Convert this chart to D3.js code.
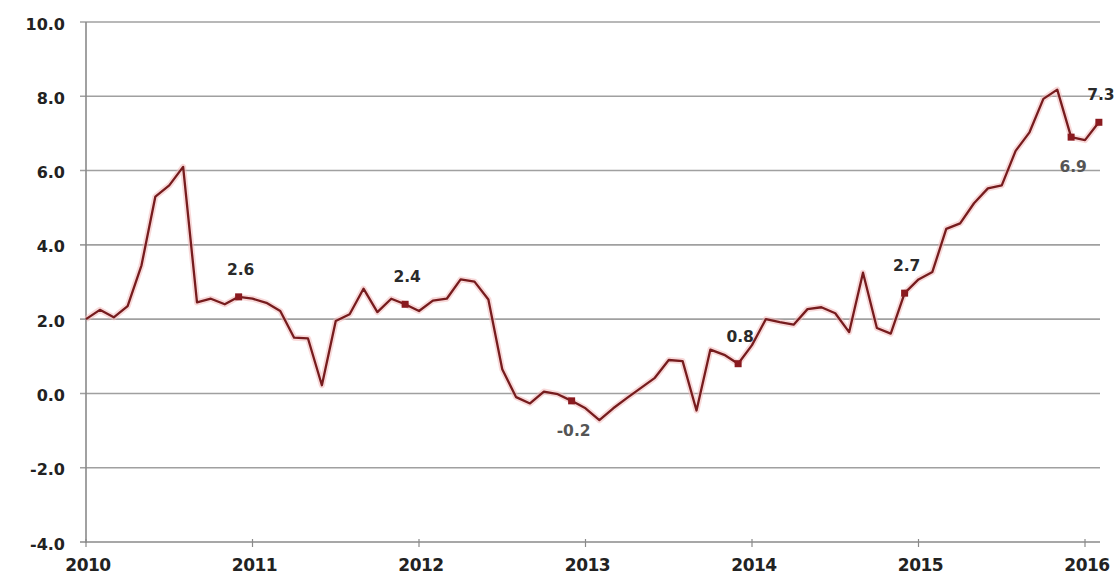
<!DOCTYPE html>
<html>
<head>
<meta charset="utf-8">
<script src="https://cdn.jsdelivr.net/npm/d3@7"></script>
<style>
  html, body { margin: 0; padding: 0; background: #fff; }
  svg { display: block; }
</style>
</head>
<body>
<svg id="chart" width="1116" height="575"></svg>
<script>
// Monthly rate, January 2010 – February 2016 (percent)
const startYear = 2010;
const values2010 = [2.0, 2.25, 2.05, 2.35, 3.45, 5.3, 5.6, 6.1, 2.45, 2.55, 2.4, 2.6];
const values2011 = [2.55, 2.44, 2.22, 1.5, 1.48, 0.22, 1.95, 2.13, 2.82, 2.19, 2.55, 2.4];
const values2012 = [2.22, 2.5, 2.55, 3.07, 3.01, 2.53, 0.65, -0.1, -0.27, 0.05, -0.02, -0.2];
const values2013 = [-0.4, -0.72, -0.4, -0.12, 0.15, 0.42, 0.9, 0.87, -0.46, 1.18, 1.04, 0.8];
const values2014 = [1.3, 2.0, 1.92, 1.85, 2.27, 2.32, 2.16, 1.65, 3.25, 1.76, 1.61, 2.7];
const values2015 = [3.07, 3.27, 4.43, 4.58, 5.12, 5.52, 5.6, 6.53, 7.03, 7.93, 8.18, 6.9];
const values2016 = [6.82, 7.3];

// Months (index from Jan 2010) that carry a marker and a value label
const markedMonths = [11, 23, 35, 47, 59, 71, 73];
const labelsBelow = [35, 71];

const yTicks = [-4, -2, 0, 2, 4, 6, 8, 10];
const xTickYears = [2010, 2011, 2012, 2013, 2014, 2015, 2016];

const series = [].concat(values2010, values2011, values2012, values2013,
                         values2014, values2015, values2016)
  .map((v, i) => ({ i, v }));

const svg = d3.select("#chart");
const plotLeft = 86, plotRight = 1100, plotTop = 22, plotBottom = 542;

// month index -> x; the year ticks sit at index 12*k
const x = d3.scaleLinear().domain([0, 73]).range([plotLeft, plotLeft + 73 * (999 / 72)]);
const y = d3.scaleLinear().domain([-4, 10]).range([plotBottom, plotTop]);

// one decimal, plain hyphen for negatives
const fmt = v => v.toFixed(1);

// Horizontal gridlines with short ticks left of the axis
const grid = svg.append("g").attr("class", "grid");
grid.selectAll("line")
  .data(yTicks)
  .join("line")
  .attr("x1", plotLeft - 6)
  .attr("x2", plotRight)
  .attr("y1", d => y(d))
  .attr("y2", d => y(d))
  .attr("stroke", d => d === -4 ? "#8a8a8a" : "#a0a0a0")
  .attr("stroke-width", 1.6);

// Vertical axis line
svg.append("line")
  .attr("x1", plotLeft).attr("x2", plotLeft)
  .attr("y1", plotTop).attr("y2", plotBottom + 1)
  .attr("stroke", "#8a8a8a").attr("stroke-width", 1.6);

// Y tick labels
svg.append("g")
  .selectAll("text")
  .data(yTicks)
  .join("text")
  .attr("x", 65)
  .attr("y", d => y(d) + 2)
  .attr("text-anchor", "end")
  .attr("dominant-baseline", "central")
  .attr("font-family", "DejaVu Sans, Verdana, sans-serif")
  .attr("font-weight", "bold")
  .attr("font-size", 16)
  .attr("fill", "#222")
  .text(d => fmt(d));

// X ticks and year labels
const xAxisG = svg.append("g");
xAxisG.selectAll("line")
  .data(xTickYears)
  .join("line")
  .attr("x1", d => x((d - startYear) * 12))
  .attr("x2", d => x((d - startYear) * 12))
  .attr("y1", plotBottom - 3)
  .attr("y2", plotBottom + 5)
  .attr("stroke", "#8a8a8a")
  .attr("stroke-width", 1.2);
xAxisG.selectAll("text")
  .data(xTickYears)
  .join("text")
  .attr("x", d => x((d - startYear) * 12) + 2)
  .attr("y", 565)
  .attr("text-anchor", "middle")
  .attr("dominant-baseline", "central")
  .attr("font-family", "DejaVu Sans, Verdana, sans-serif")
  .attr("font-weight", "bold")
  .attr("font-size", 17)
  .attr("letter-spacing", -0.5)
  .attr("fill", "#222")
  .text(d => d);

// Series line: soft halo plus the dark red stroke
const line = d3.line().x(d => x(d.i)).y(d => y(d.v));
svg.append("path")
  .datum(series)
  .attr("d", line)
  .attr("fill", "none")
  .attr("stroke", "#f3b9b9")
  .attr("stroke-opacity", 0.55)
  .attr("stroke-width", 6)
  .attr("stroke-linejoin", "round");
svg.append("path")
  .datum(series)
  .attr("d", line)
  .attr("fill", "none")
  .attr("stroke", "#761c1e")
  .attr("stroke-width", 2.3)
  .attr("stroke-linejoin", "round");

// Markers and value labels
const marked = series.filter(d => markedMonths.includes(d.i));
svg.append("g")
  .selectAll("rect")
  .data(marked)
  .join("rect")
  .attr("x", d => x(d.i) - 3.5)
  .attr("y", d => y(d.v) - 3.5)
  .attr("width", 7)
  .attr("height", 7)
  .attr("fill", "#8a1a1f");

svg.append("g")
  .selectAll("text")
  .data(marked)
  .join("text")
  .attr("x", d => x(d.i) + 2)
  .attr("y", d => labelsBelow.includes(d.i) ? y(d.v) + 30 : y(d.v) - 27)
  .attr("text-anchor", "middle")
  .attr("dominant-baseline", "central")
  .attr("font-family", "DejaVu Sans, Verdana, sans-serif")
  .attr("font-weight", "bold")
  .attr("font-size", 15.5)
  .attr("fill", d => labelsBelow.includes(d.i) ? "#555" : "#2a2a2a")
  .text(d => fmt(d.v));
</script>
</body>
</html>
